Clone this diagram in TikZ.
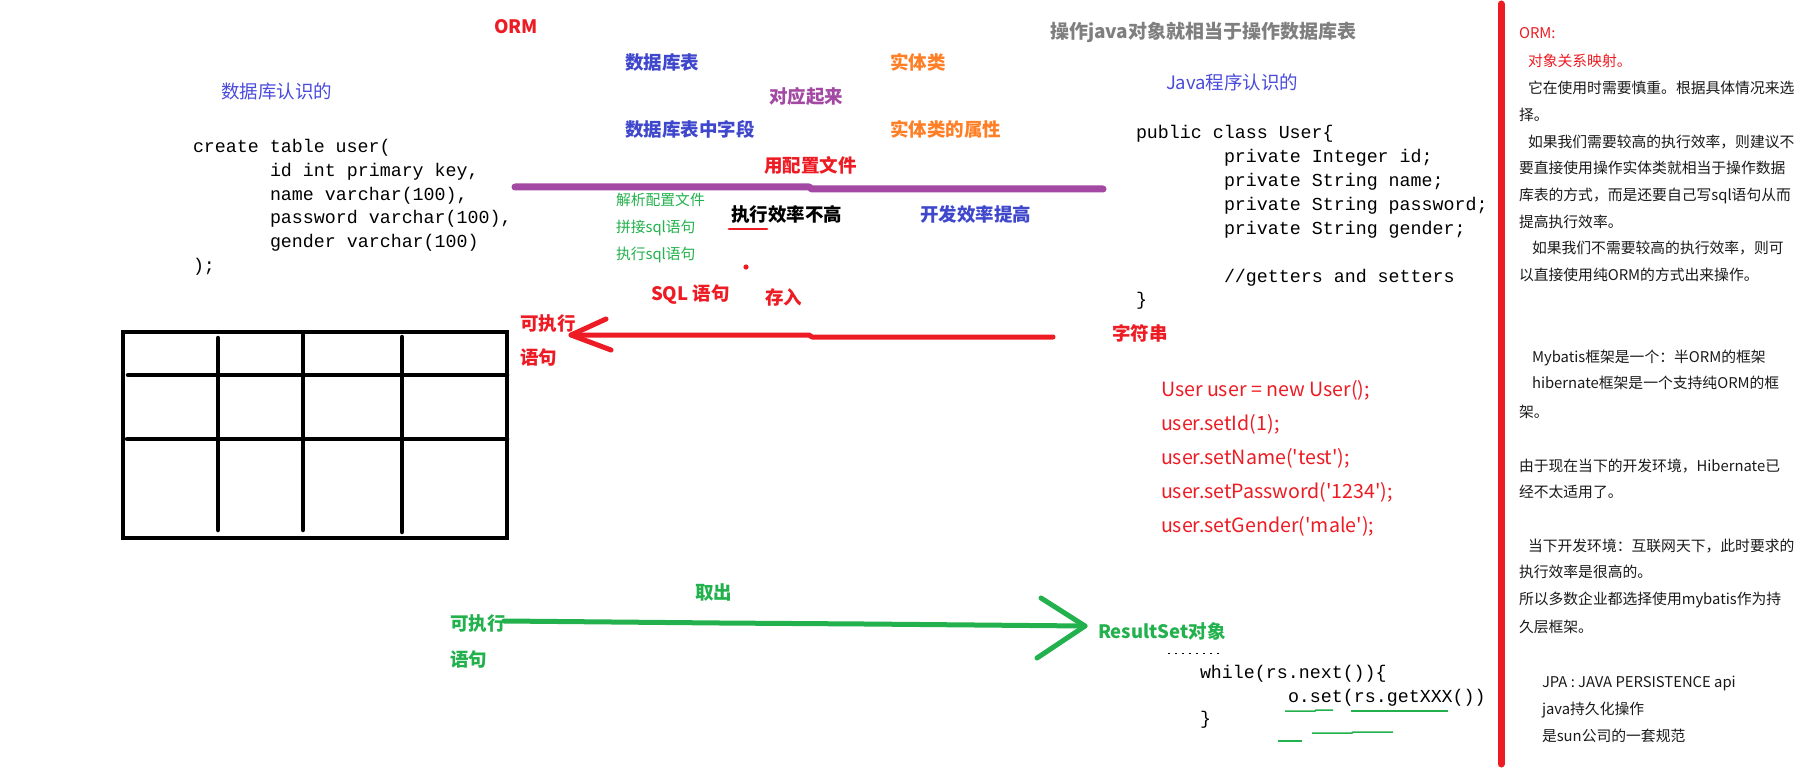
\documentclass[tikz,border=0pt]{standalone}
\usepackage{fontspec}
\setmainfont{Noto Sans CJK SC}
\newfontfamily\cjk{Noto Sans CJK SC}
\newfontfamily\monof{Liberation Mono}
\definecolor{cred}{HTML}{ED1C24}
\definecolor{cblue}{HTML}{3F48CC}
\definecolor{clblue}{HTML}{4B4BDC}
\definecolor{corange}{HTML}{FF7F27}
\definecolor{cpurple}{HTML}{A349A4}
\definecolor{cgreen}{HTML}{22B14C}
\definecolor{cgray}{HTML}{7F7F7F}
\definecolor{ctext}{HTML}{1A1A1A}
\begin{document}
\begin{tikzpicture}[x=1pt,y=-1pt,
  every node/.style={inner sep=0pt,outer sep=0pt,anchor=base west},
  lbl/.style={font=\cjk\bfseries\fontsize{18.5}{18.5}\selectfont},
  reglbl/.style={font=\cjk\fontsize{18.5}{18.5}\selectfont,text=clblue},
  smallg/.style={font=\cjk\fontsize{14.8}{14.8}\selectfont,text=cgreen},
  codeline/.style={font=\monof\fontsize{18.3}{18.3}\selectfont,text=black},
  redcode/.style={font=\cjk\fontsize{19.6}{19.6}\selectfont,text=cred},
  note/.style={font=\cjk\fontsize{14.8}{14.8}\selectfont,text=ctext},
  gridline/.style={line width=4.5pt,black},
  redpen/.style={line width=5pt,cred,line cap=round,line join=round},
  greenpen/.style={line width=5pt,cgreen,line cap=round,line join=round},
  thing/.style={line width=1.5pt,cgreen},
]
\useasboundingbox (0,0) rectangle (1798,778);
\fill[white] (0,0) rectangle (1798,778);

% ---- top labels ----
\node[lbl,text=cred] (orm) at (494,34) {ORM};
\node[lbl,text=cgray,font=\cjk\bfseries\fontsize{19}{19}\selectfont] (title) at (1050,39) {操作java对象就相当于操作数据库表};
\node[reglbl] (dbk) at (221,99) {数据库认识的};
\node[reglbl] (jvk) at (1166,90) {Java程序认识的};
\node[lbl,text=cblue] (dbt) at (625,70) {数据库表};
\node[lbl,text=corange] (ent) at (890,70) {实体类};
\node[lbl,text=cpurple] (dyq) at (769,104) {对应起来};
\node[lbl,text=cblue] (dbf) at (625,137) {数据库表中字段};
\node[lbl,text=corange] (enp) at (890,137) {实体类的属性};
\node[lbl,text=cred] (cfg) at (764,173) {用配置文件};

% purple bar
\coordinate (pa) at (515,187);
\coordinate (pm1) at (809,187);
\coordinate (pm2) at (812,189);
\coordinate (pb) at (1103,189);
\draw[line width=7pt,cpurple,line cap=round,line join=round] (pa) -- (pm1) -- (pm2) -- (pb);

\node[smallg] (s1) at (616,205.6) {解析配置文件};
\node[smallg] (s2) at (616,232.6) {拼接sql语句};
\node[smallg] (s3) at (616,259.6) {执行sql语句};
\node[lbl,text=black] (low) at (731,222) {执行效率不高};
\node[lbl,text=cblue] (high) at (920,222) {开发效率提高};
\coordinate (ul1) at (729,229);
\coordinate (ul2) at (767,229);
\draw[line width=2.8pt,cred,line cap=round] (ul1) -- (ul2);
\fill[cred] (746,267) circle (2.6);

\node[lbl,text=cred] (sqls) at (651,300) {SQL 语句};
\node[lbl,text=cred] (cunru) at (765,304) {存入};
\node[lbl,text=cred] (exe1) at (520,330) {可执行};
\node[lbl,text=cred] (exe2) at (520,364) {语句};
\node[lbl,text=cred] (zfc) at (1112,340) {字符串};

% red arrow
\coordinate (ra) at (1053,337);
\coordinate (rm1) at (812,337);
\coordinate (rm2) at (809,335);
\coordinate (rt) at (571,335);
\coordinate (rb1) at (606,319);
\coordinate (rb2) at (611,350);
\draw[redpen] (ra) -- (rm1) -- (rm2) -- (rt);
\draw[redpen] (rb1) -- (rt) -- (rb2);

% ---- SQL block ----
\node[codeline] (c1) at (193,152.5) {create table user(};
\node[codeline] (c2) at (270,176.5) {id int primary key,};
\node[codeline] (c3) at (270,200.5) {name varchar(100),};
\node[codeline] (c4) at (270,223.5) {password varchar(100),};
\node[codeline] (c5) at (270,247.5) {gender varchar(100)};
\node[codeline] (c6) at (193,271.5) {);};

% ---- Java block ----
\node[codeline] (j1) at (1136,138.5) {public class User\{};
\node[codeline] (j2) at (1224,162.5) {private Integer id;};
\node[codeline] (j3) at (1224,186.5) {private String name;};
\node[codeline] (j4) at (1224,210.5) {private String password;};
\node[codeline] (j5) at (1224,234.5) {private String gender;};
\node[codeline] (j6) at (1224,282.5) {//getters and setters};
\node[codeline] (j7) at (1136,305.5) {\}};

% ---- red java code ----
\node[redcode] (u1) at (1161,396) {User user = new User();};
\node[redcode] (u2) at (1161,430) {user.setId(1);};
\node[redcode] (u3) at (1161,464) {user.setName('test');};
\node[redcode] (u4) at (1161,498) {user.setPassword('1234');};
\node[redcode] (u5) at (1161,532) {user.setGender('male');};

% ---- table grid ----
\draw[gridline] (123,332) rectangle (507,538);
\draw[gridline,line cap=round] (128,375) -- (507,375);
\draw[gridline,line cap=round] (127,439) -- (507,439);
\draw[gridline,line cap=round] (218,338) -- (218,530);
\draw[gridline,line cap=round] (303,335) -- (303,530);
\draw[gridline,line cap=round] (402,337) -- (402,532);

% ---- green arrow ----
\node[lbl,text=cgreen] (qc) at (695,599) {取出};
\node[lbl,text=cgreen] (ge1) at (450,630) {可执行};
\node[lbl,text=cgreen] (ge2) at (450,666) {语句};
\node[lbl,text=cgreen] (rset) at (1098,638) {ResultSet对象};
\coordinate (ga) at (504,621);
\coordinate (gm1) at (720,623);
\coordinate (gm2) at (865,624);
\coordinate (gt) at (1085,626);
\coordinate (gb1) at (1041,598);
\coordinate (gb2) at (1037,658);
\draw[greenpen] (ga) -- (gm1) -- (gm2) -- (gt);
\draw[greenpen] (gb1) -- (gt) -- (gb2);

% ---- ResultSet code ----
\draw[line width=1pt,black,dash pattern=on 2pt off 5pt] (1168,653) -- (1223,653);
\node[codeline] (w1) at (1200,678.5) {while(rs.next())\{};
\node[codeline] (w2) at (1288,702.5) {o.set(rs.getXXX())};
\node[codeline] (w3) at (1200,724.5) {\}};
\draw[thing] (1285,711) -- (1315,711) -- (1316,710) -- (1333,710);
\draw[thing] (1351,711) -- (1448,711);
\draw[thing] (1278,741) -- (1302,741);
\draw[thing] (1312,733) -- (1352,733) -- (1353,732) -- (1393,732);

% ---- right panel ----
\draw[line width=7pt,cred,line cap=round] (1501,4) -- (1501,764);
\node[note,text=cred] (n1) at (1519,38.7) {ORM:};
\node[note,text=cred] (n2) at (1528,66.7) {对象关系映射。};
\node[note] (n3) at (1528,93.7) {它在使用时需要慎重。根据具体情况来选};
\node[note] (n4) at (1519,120.7) {择。};
\node[note] (n5) at (1528,147.7) {如果我们需要较高的执行效率，则建议不};
\node[note] (n6) at (1519,173.7) {要直接使用操作实体类就相当于操作数据};
\node[note] (n7) at (1519,200.7) {库表的方式，而是还要自己写sql语句从而};
\node[note] (n8) at (1519,227.7) {提高执行效率。};
\node[note] (n9) at (1532,253.7) {如果我们不需要较高的执行效率，则可};
\node[note] (n10) at (1519,280.7) {以直接使用纯ORM的方式出来操作。};
\node[note] (n11) at (1532,362.7) {Mybatis框架是一个：半ORM的框架};
\node[note] (n12) at (1532,388.7) {hibernate框架是一个支持纯ORM的框};
\node[note] (n13) at (1519,417.7) {架。};
\node[note] (n14) at (1519,471.7) {由于现在当下的开发环境，Hibernate已};
\node[note] (n15) at (1519,497.7) {经不太适用了。};
\node[note] (n16) at (1528,551.7) {当下开发环境：互联网天下，此时要求的};
\node[note] (n17) at (1519,577.7) {执行效率是很高的。};
\node[note] (n18) at (1519,604.7) {所以多数企业都选择使用mybatis作为持};
\node[note] (n19) at (1519,632.7) {久层框架。};
\node[note] (n20) at (1542,687.7) {JPA : JAVA PERSISTENCE api};
\node[note] (n21) at (1542,714.7) {java持久化操作};
\node[note] (n22) at (1542,741.7) {是sun公司的一套规范};
\end{tikzpicture}
\end{document}
